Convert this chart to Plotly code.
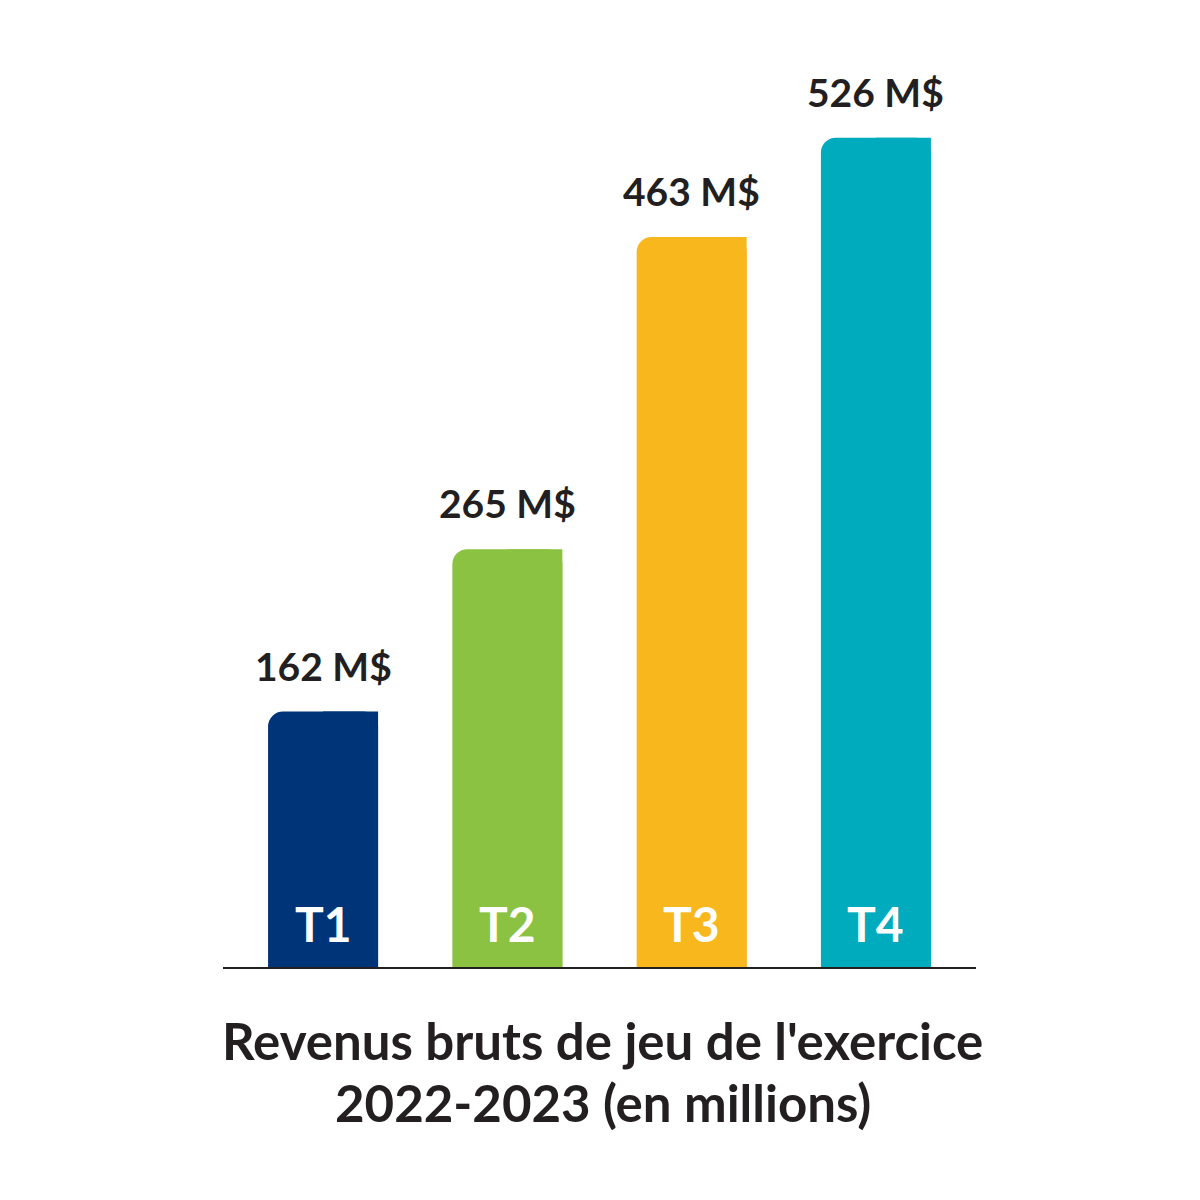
import plotly.graph_objects as go

categories = ["T1", "T2", "T3", "T4"]
values = [162, 265, 463, 526]
value_labels = ["162 M$", "265 M$", "463 M$", "526 M$"]
colors = ["#003478", "#8cc242", "#f8b71c", "#00abbd"]
title_lines = ["Revenus bruts de jeu de l'exercice", "2022-2023 (en millions)"]

FONT = "Lato, 'Open Sans', sans-serif"
TXT = "#231f20"
BAR_W = 0.597
PLOT_H = 1200 - 13 - 241

fig = go.Figure()
# full bars with rounded top corners
fig.add_trace(go.Bar(x=categories, y=values, width=BAR_W,
                     marker=dict(color=colors, cornerradius=15, line=dict(width=0)),
                     hoverinfo="skip", showlegend=False))
# right half overlay to keep the top-right corner square
fig.add_trace(go.Bar(x=categories, y=values, width=BAR_W / 2, offset=0,
                     marker=dict(color=colors, line=dict(width=0)),
                     hoverinfo="skip", showlegend=False))

annotations = []
for c, v, lab in zip(categories, values, value_labels):
    annotations.append(dict(x=c, y=v, xref="x", yref="y", text=lab, showarrow=False,
                            yanchor="bottom", yshift=21,
                            font=dict(family=FONT, size=39, color=TXT, weight="bold")))
    annotations.append(dict(x=c, y=0, xref="x", yref="y", text=c, showarrow=False,
                            yanchor="bottom", yshift=13,
                            font=dict(family=FONT, size=48, color="white", weight="bold")))
for i, line in enumerate(title_lines):
    annotations.append(dict(x=0.5046, y=-(73 + 62 * i) / PLOT_H, xref="paper", yref="paper",
                            text=line, showarrow=False, xanchor="center", yanchor="middle",
                            font=dict(family=FONT, size=51, color=TXT, weight="bold")))

fig.update_layout(
    width=1200, height=1200,
    margin=dict(l=215, r=232, t=13, b=241),
    paper_bgcolor="white", plot_bgcolor="white",
    barmode="overlay",
    annotations=annotations,
    xaxis=dict(range=[-0.543, 3.543], showticklabels=False, ticks="", showgrid=False,
               zeroline=False, showline=True, linecolor=TXT, linewidth=2),
    yaxis=dict(range=[0, 600], visible=False, showgrid=False, zeroline=False),
)
fig.write_html("out.html")
